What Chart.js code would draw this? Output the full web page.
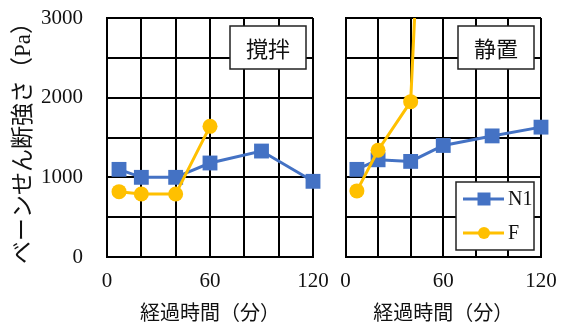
<!DOCTYPE html>
<html>
<head>
<meta charset="utf-8">
<script src="https://cdn.jsdelivr.net/npm/chart.js@4.4.0/dist/chart.umd.min.js"></script>
<style>
body { margin: 0; background: #fff; }
#wrap { position: relative; width: 563px; height: 327px; }
#left { position: absolute; left: 0; top: 0; }
#right { position: absolute; left: 335px; top: 0; }
</style>
</head>
<body>
<div id="wrap">
<canvas id="left" width="335" height="327"></canvas>
<canvas id="right" width="228" height="327"></canvas>
</div>
<script>
// 撹拌
var stirN1Time = [7, 20, 40, 60, 90, 120];
var stirN1 = [1100, 1000, 1000, 1180, 1330, 950];
var stirFTime = [7, 20, 40, 60];
var stirF = [820, 790, 790, 1640];

// 静置 (last F point is off the top of the axis)
var restN1Time = [7, 20, 40, 60, 90, 120];
var restN1 = [1100, 1220, 1200, 1400, 1520, 1630];
var restFTime = [7, 20, 40, 60];
var restF = [830, 1340, 1950, 10700];

var seriesNames = ['N1', 'F'];
var panelNames = ['撹拌', '静置'];
var xTicks = [0, 60, 120];
var yTicks = [0, 1000, 2000, 3000];

var serif = "'Liberation Serif', 'Noto Sans CJK JP', serif";
var textColor = '#111';
var blue = '#4472C4';
var gold = '#FFC000';

function pts(xs, ys) {
	var out = [];
	for (var i in xs) {
		out.push({x: xs[i], y: ys[i]});
	}
	return out;
}

// name box in the top right corner, legend in the bottom right corner
var panelDecor = {
	id: 'panelDecor',
	afterDraw: function(chart, args, opts) {
		var ctx = chart.ctx;
		var area = chart.chartArea;
		ctx.save();

		var bw = 76, bh = 43;
		var bx = area.right - 7 - bw;
		var by = area.top + 8;
		ctx.fillStyle = '#fff';
		ctx.fillRect(bx, by, bw, bh);
		ctx.lineWidth = 1.5;
		ctx.strokeStyle = '#222';
		ctx.strokeRect(bx, by, bw, bh);
		ctx.fillStyle = textColor;
		ctx.font = "22px 'Noto Sans CJK JP'";
		ctx.textAlign = 'center';
		ctx.textBaseline = 'middle';
		ctx.fillText(opts.name, bx + bw / 2, by + bh / 2 + 1);

		if (opts.legend) {
			var lw = 78, lh = 68;
			var lx = area.right - 7 - lw;
			var ly = area.bottom - 7 - lh;
			ctx.fillStyle = '#fff';
			ctx.fillRect(lx, ly, lw, lh);
			ctx.strokeRect(lx, ly, lw, lh);
			var dsets = chart.data.datasets;
			for (var i = 0; i < dsets.length; i++) {
				var ds = dsets[i];
				var cy = ly + 17 + i * 34;
				ctx.strokeStyle = ds.borderColor;
				ctx.lineWidth = 3;
				ctx.beginPath();
				ctx.moveTo(lx + 7, cy);
				ctx.lineTo(lx + 48, cy);
				ctx.stroke();
				ctx.fillStyle = ds.borderColor;
				ctx.beginPath();
				if (ds.pointStyle == 'rect') {
					ctx.rect(lx + 28 - 6.5, cy - 6.5, 13, 13);
				} else {
					ctx.arc(lx + 28, cy, 6, 0, Math.PI * 2);
				}
				ctx.fill();
				ctx.fillStyle = textColor;
				ctx.font = '20px ' + serif;
				ctx.textAlign = 'left';
				ctx.textBaseline = 'middle';
				ctx.fillText(ds.label, lx + 52, cy + 1);
			}
		}
		ctx.restore();
	}
};

function makePanel(id, n1x, n1y, fx, fy, name, first) {
	var ctx = document.getElementById(id);
	return new Chart(ctx, {
		type: 'line',
		data: {
			datasets: [
				{
					label: seriesNames[0],
					data: pts(n1x, n1y),
					borderColor: blue,
					backgroundColor: blue,
					borderWidth: 3,
					pointStyle: 'rect',
					pointRadius: 10.5,
					pointBorderWidth: 0,
					order: 1,
					clip: {top: 0, left: false, right: false, bottom: false}
				},
				{
					label: seriesNames[1],
					data: pts(fx, fy),
					borderColor: gold,
					backgroundColor: gold,
					borderWidth: 3,
					pointStyle: 'circle',
					pointRadius: 7.5,
					pointBorderWidth: 0,
					order: 0,
					clip: {top: 0, left: false, right: false, bottom: false}
				}
			]
		},
		options: {
			responsive: false,
			animation: false,
			devicePixelRatio: 1,
			layout: {padding: {top: 18, right: 22, bottom: 0, left: 0}},
			plugins: {
				legend: {display: false},
				tooltip: {enabled: false},
				panelDecor: {name: name, legend: !first}
			},
			scales: {
				x: {
					type: 'linear',
					min: 0,
					max: 120,
					afterFit: function(s) { s.height = 70; },
					ticks: {
						stepSize: 20,
						autoSkip: false,
						maxRotation: 0,
						padding: 0,
						color: textColor,
						font: {family: serif, size: 21},
						callback: function(v) { return xTicks.indexOf(v) >= 0 ? v : ''; }
					},
					// invisible tick marks keep the label gap
					grid: {color: '#000', lineWidth: 2, drawTicks: true, tickLength: 12, tickColor: 'rgba(0,0,0,0)'},
					border: {color: '#000', width: 2},
					title: {
						display: true,
						text: '経過時間（分）',
						color: textColor,
						font: {family: serif, size: 20},
						padding: {top: 0, bottom: 0}
					}
				},
				y: {
					min: 0,
					max: 3000,
					afterFit: function(s) { s.width = first ? 107 : 10; },
					ticks: {
						display: first,
						stepSize: 500,
						padding: 0,
						color: textColor,
						font: {family: serif, size: 21},
						callback: function(v) { return yTicks.indexOf(v) >= 0 ? v : ''; }
					},
					grid: {color: '#000', lineWidth: 2, drawTicks: true, tickLength: 24, tickColor: 'rgba(0,0,0,0)'},
					border: {color: '#000', width: 2},
					title: {
						display: first,
						text: 'ベーンせん断強さ（Pa）',
						color: textColor,
						font: {family: serif, size: 23},
						padding: {top: 10, bottom: 0}
					}
				}
			}
		},
		plugins: [panelDecor]
	});
}

makePanel('left', stirN1Time, stirN1, stirFTime, stirF, panelNames[0], true);
makePanel('right', restN1Time, restN1, restFTime, restF, panelNames[1], false);
</script>
</body>
</html>
